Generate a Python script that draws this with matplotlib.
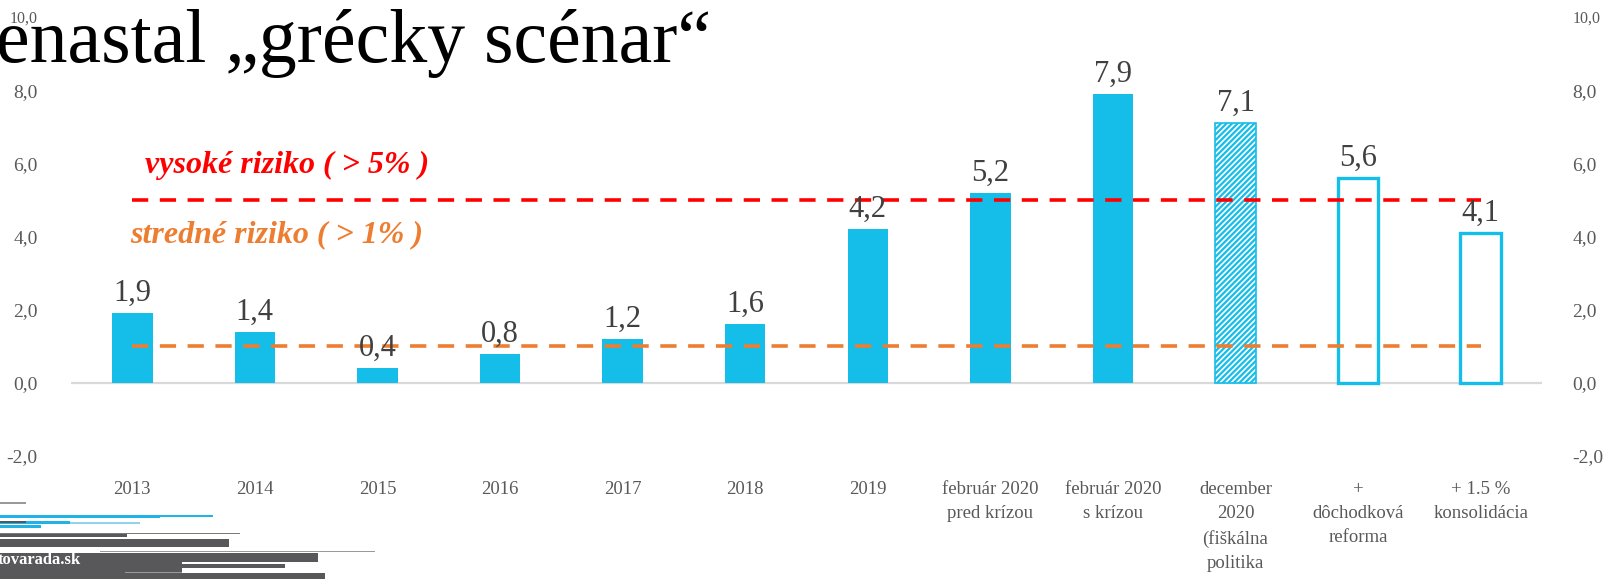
import matplotlib.pyplot as plt
from matplotlib.patches import Rectangle
from matplotlib.ticker import FuncFormatter
import numpy as np

categories = ["2013", "2014", "2015", "2016", "2017", "2018", "2019",
              "február 2020\npred krízou", "február 2020\ns krízou",
              "december\n2020\n(fiškálna\npolitika",
              "+\ndôchodková\nreforma", "+ 1.5 %\nkonsolidácia"]
values = [1.9, 1.4, 0.4, 0.8, 1.2, 1.6, 4.2, 5.2, 7.9, 7.1, 5.6, 4.1]
# 0 = plny stlpec, 1 = srafovany, 2 = iba obrys
bar_kind = [0, 0, 0, 0, 0, 0, 0, 0, 0, 1, 2, 2]
high_risk = 5.0
mid_risk = 1.0
y_ticks = [-2, 0, 2, 4, 6, 8, 10]

blue = "#15BDE9"
grey_txt = "#595959"
dark_txt = "#404040"
serif = ["Liberation Serif", "DejaVu Serif"]

plt.rcParams["font.family"] = serif
plt.rcParams["hatch.linewidth"] = 1.6
plt.rcParams["hatch.color"] = blue

fig = plt.figure(figsize=(16.07, 5.79), dpi=100)

# pozadie slajdu (logo a nadpis) v pixeloch
bg = fig.add_axes([0, 0, 1, 1], zorder=0)
bg.set_xlim(0, 1607)
bg.set_ylim(579, 0)
bg.axis("off")

stripes = [  # x0, x1, y0, y1, farba
    (0, 26, 502, 504, "#9a9a9a"),
    (0, 213, 515, 517, "#1FB3E8"),
    (0, 160, 514.5, 517.5, "#1FB3E8"),
    (0, 140, 522, 523.5, "#8fd3f0"),
    (0, 70, 520.5, 524, "#1FB3E8"),
    (0, 26, 521, 522.5, "#58585A"),
    (0, 41, 525, 527.5, "#1FB3E8"),
    (0, 240, 532.5, 534, "#7a7a7c"),
    (0, 127, 534, 536.5, "#58585A"),
    (0, 229, 539, 547, "#58585A"),
    (100, 375, 550.5, 552, "#9a9a9a"),
    (0, 318, 553, 562, "#58585A"),
    (0, 182, 562, 573, "#58585A"),
    (182, 285, 564, 568, "#58585A"),
    (125, 182, 571.5, 573, "#9a9a9a"),
    (0, 325, 573, 579, "#58585A"),
]
for x0, x1, y0, y1, c in stripes:
    bg.add_patch(Rectangle((x0, y0), x1 - x0, y1 - y0, color=c, lw=0))
bg.text(-2, 560, "tovarada.sk", color="white", fontsize=12,
        fontweight="bold", va="center", ha="left")
bg.text(-4, 62, "enastal „grécky scénar“", fontsize=54.5, color="black",
        va="baseline", ha="left")

ax = fig.add_axes([71 / 1607, 1 - 456 / 579, 1471 / 1607, (456 - 17) / 579],
                  zorder=1)
ax.patch.set_alpha(0)
x = np.arange(len(categories))
w = 0.33

for i, (v, k) in enumerate(zip(values, bar_kind)):
    if k == 0:
        ax.bar(x[i], v, width=w, color=blue, lw=0, zorder=2)
    elif k == 1:
        ax.bar(x[i], v, width=w, facecolor="white", edgecolor=blue,
               hatch="//////", lw=1.2, zorder=2)
    else:
        ax.bar(x[i], v, width=w, facecolor="white", edgecolor=blue,
               lw=2.4, zorder=2)
    ax.text(x[i], v + 0.14, f"{v:.1f}".replace(".", ","), ha="center",
            va="bottom", fontsize=22, color=dark_txt, zorder=4)

ax.plot([x[0], x[-1]], [high_risk, high_risk], color="#FF0000", lw=2.6,
        ls=(0, (4.5, 3.2)), zorder=3)
ax.plot([x[0], x[-1]], [mid_risk, mid_risk], color="#ED7D31", lw=2.6,
        ls=(0, (4.5, 3.2)), zorder=3)
ax.text(0.1, 5.93, "vysoké riziko ( > 5% )", color="#FF0000", fontsize=23,
        fontweight="bold", style="italic", va="center", ha="left")
ax.text(-0.02, 4.04, "stredné riziko ( > 1% )", color="#ED7D31", fontsize=23,
        fontweight="bold", style="italic", va="center", ha="left")

ax.axhline(0, color="#D9D9D9", lw=1.6, zorder=1)
ax.set_xlim(-0.5, len(categories) - 0.5)
ax.set_ylim(-2, 10)
ax.set_xticks(x)
ax.set_xticklabels(categories, fontsize=13.5, color=grey_txt,
                   linespacing=1.55, va="top")
fmt = FuncFormatter(lambda v, p: f"{v:.1f}".replace(".", ","))
ax.set_yticks(y_ticks)
ax.yaxis.set_major_formatter(fmt)
ax.tick_params(axis="y", length=0, pad=24, labelsize=14, labelcolor=grey_txt)
ax.tick_params(axis="x", length=0, pad=18)
for s in ax.spines.values():
    s.set_visible(False)

ax2 = ax.twinx()
ax2.set_ylim(-2, 10)
ax2.set_yticks(y_ticks)
ax2.yaxis.set_major_formatter(fmt)
ax2.tick_params(axis="y", length=0, pad=22, labelsize=14,
                labelcolor=grey_txt)
for s in ax2.spines.values():
    s.set_visible(False)

# horny popis osi je na slajde mensi
ax.get_yticklabels()[-1].set_fontsize(11.5)
ax2.get_yticklabels()[-1].set_fontsize(11.5)

fig.savefig("out.png", dpi=100)
